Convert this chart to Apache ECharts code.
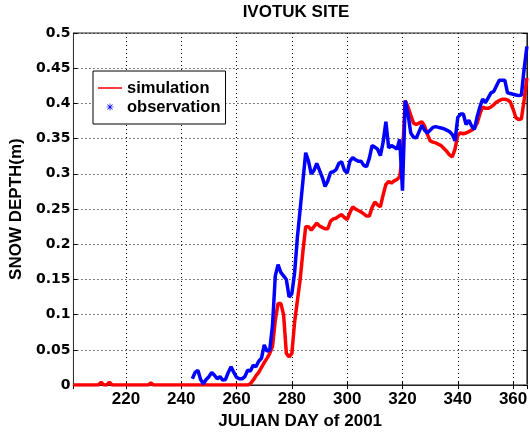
<!DOCTYPE html>
<html>
<head>
<meta charset="utf-8">
<script src="https://cdn.jsdelivr.net/npm/echarts@6/dist/echarts.min.js"></script>
<style>html,body{margin:0;padding:0;background:#fff;}#c{width:530px;height:435px;}</style>
</head>
<body>
<div id="c"></div>
<script>
const titleText = 'IVOTUK SITE';
const xName = 'JULIAN DAY of 2001';
const yName = 'SNOW DEPTH(m)';
const seriesNames = ['simulation', 'observation'];

const simDays = [201,210,211,212,213,214,215,228,229,230,264,
265,266,267,268,269,270,271,272,273,274,
275,276,277,278,279,280,281,282,283,284,
285,286,287,288,289,290,291,292,293,294,
295,296,297,298,299,300,301,302,303,304,
305,306,307,308,309,310,311,312,313,314,
315,316,317,318,319,320,321,322,323,324,
325,326,327,328,329,330,331,332,333,334,
335,336,337,338,339,340,341,342,343,344,
345,346,347,348,349,350,351,352,353,354,
355,356,357,358,359,360,361,362,363,364,
365];
const simDepth = [0,0,0.004,0,0,0.004,0,0,0.003,0,0,
0.002,0.007,0.013,0.018,0.025,0.032,0.038,0.045,0.055,0.092,
0.116,0.116,0.100,0.045,0.040,0.045,0.090,0.120,0.150,0.190,
0.225,0.225,0.220,0.225,0.230,0.226,0.224,0.222,0.222,0.233,
0.236,0.237,0.240,0.242,0.238,0.235,0.245,0.253,0.250,0.248,
0.246,0.243,0.240,0.240,0.252,0.260,0.256,0.253,0.270,0.285,
0.289,0.287,0.290,0.292,0.296,0.326,0.404,0.395,0.383,0.372,
0.370,0.372,0.374,0.368,0.356,0.347,0.345,0.344,0.342,0.340,
0.336,0.332,0.327,0.324,0.335,0.355,0.358,0.357,0.358,0.360,
0.362,0.365,0.372,0.385,0.395,0.393,0.393,0.395,0.398,0.402,
0.404,0.406,0.406,0.405,0.402,0.392,0.380,0.377,0.378,0.405,
0.436];

const obsDays = [244,245,246,247,248,249,250,251,252,253,
254,255,256,257,258,259,260,261,262,263,
264,265,266,267,268,269,270,271,272,273,
274,275,276,277,278,279,280,281,282,283,
284,285,286,287,288,289,290,291,292,293,
294,295,296,297,298,299,300,301,302,303,
304,305,306,307,308,309,310,311,312,313,
314,315,316,317,318,319,320,321,322,323,
324,325,326,327,328,329,330,331,332,333,
334,335,336,337,338,339,340,341,342,343,
344,345,346,347,348,349,350,351,352,353,
354,355,356,357,358,359,360,361,362,363,
364,365];
const obsDepth = [0.009,0.018,0.021,0.008,0.002,0.008,0.012,0.018,0.014,0.009,
0.012,0.007,0.008,0.018,0.026,0.018,0.011,0.009,0.009,0.012,
0.021,0.020,0.028,0.026,0.034,0.038,0.057,0.048,0.050,0.085,
0.155,0.171,0.160,0.155,0.150,0.125,0.130,0.160,0.210,0.250,
0.290,0.330,0.318,0.300,0.305,0.315,0.305,0.295,0.282,0.290,
0.302,0.303,0.306,0.315,0.317,0.305,0.301,0.318,0.323,0.320,
0.318,0.318,0.312,0.310,0.322,0.340,0.338,0.335,0.326,0.345,
0.374,0.337,0.340,0.338,0.335,0.349,0.276,0.404,0.385,0.358,
0.352,0.351,0.360,0.369,0.362,0.358,0.362,0.366,0.367,0.366,
0.365,0.364,0.362,0.360,0.356,0.347,0.380,0.385,0.385,0.370,
0.376,0.368,0.363,0.381,0.395,0.406,0.401,0.408,0.415,0.417,
0.425,0.433,0.433,0.433,0.415,0.414,0.413,0.412,0.411,0.412,
0.449,0.481];

const xMin = 201, xMax = 365;
const yMin = 0, yMax = 0.5, yStep = 0.05;

const simData = simDays.map((d, i) => [d, simDepth[i]]);
const obsData = obsDays.map((d, i) => [d, obsDepth[i]]);

const asterisk = 'path://M9 0H11V20H9Z M0 9H20V11H0Z M2.2 3.6L3.6 2.2L17.8 16.4L16.4 17.8Z M16.4 2.2L17.8 3.6L3.6 17.8L2.2 16.4Z';

const gridLine = {show: true, lineStyle: {color: '#000', width: 1, type: [1, 3]}};
const tickIn = {show: true, inside: true, length: 4, lineStyle: {color: '#000'}};
const FONT = 'Liberation Sans';

const chart = echarts.init(document.getElementById('c'), null, {renderer: 'canvas'});
chart.setOption({
  animation: false,
  backgroundColor: '#fff',
  title: {
    text: titleText, left: 296, top: 4, padding: 0, textAlign: 'center',
    textStyle: {fontFamily: FONT, fontSize: 17, fontWeight: 'bold', color: '#000'}
  },
  grid: {left: 65, right: 1, top: 33, bottom: 37, show: true, borderColor: '#222', borderWidth: 1, backgroundColor: '#fff'},
  legend: {
    left: 93, top: 71, orient: 'vertical',
    padding: [7.5, 5, 7.5, 4],
    itemWidth: 24, itemHeight: 9, itemGap: 0,
    backgroundColor: '#fff', borderColor: '#000', borderWidth: 1, borderRadius: 0,
    textStyle: {fontFamily: FONT, fontSize: 16.5, fontWeight: 'bold', color: '#000', lineHeight: 19},
    data: [
      {name: seriesNames[0], itemStyle: {opacity: 0}, lineStyle: {width: 1.5}},
      {name: seriesNames[1], lineStyle: {opacity: 0}}
    ]
  },
  xAxis: [{
    type: 'value', min: xMin, max: xMax, splitNumber: 8,
    name: xName, nameLocation: 'middle', nameGap: 19,
    nameTextStyle: {fontFamily: FONT, fontSize: 17, fontWeight: 'bold', color: '#000', verticalAlign: 'top'},
    axisLine: {show: true, lineStyle: {color: '#888', width: 2}},
    axisTick: tickIn,
    axisLabel: {show: true, showMinLabel: false, showMaxLabel: false, margin: 6,
      fontFamily: FONT, fontSize: 17, fontWeight: 'bold', color: '#000'},
    splitLine: gridLine
  }, {
    type: 'value', min: xMin, max: xMax, splitNumber: 8, position: 'top',
    axisLine: {show: true, lineStyle: {color: '#222', width: 1}},
    axisTick: tickIn, axisLabel: {show: false}, splitLine: {show: false}
  }],
  yAxis: [{
    type: 'value', min: yMin, max: yMax, interval: yStep,
    name: yName, nameLocation: 'middle', nameGap: 38, nameRotate: 90,
    nameTextStyle: {fontFamily: FONT, fontSize: 17, fontWeight: 'bold', color: '#000'},
    axisLine: {show: true, lineStyle: {color: '#333', width: 1}},
    axisTick: tickIn,
    axisLabel: {margin: 3, fontFamily: 'DejaVu Sans', fontWeight: 'bold', fontSize: 14, color: '#000'},
    splitLine: gridLine
  }, {
    type: 'value', min: yMin, max: yMax, interval: yStep, position: 'right',
    axisLine: {show: true, lineStyle: {color: '#222', width: 1}},
    axisTick: tickIn, axisLabel: {show: false}, splitLine: {show: false}
  }],
  series: [{
    name: seriesNames[0], type: 'line', data: simData,
    xAxisIndex: 0, yAxisIndex: 0,
    symbol: 'none', lineStyle: {color: '#ff0000', width: 3.5}, itemStyle: {color: '#ff0000'}
  }, {
    name: seriesNames[1], type: 'line', data: obsData,
    xAxisIndex: 0, yAxisIndex: 0,
    symbol: asterisk, showSymbol: false,
    lineStyle: {color: '#0000ff', width: 3.5}, itemStyle: {color: '#0000ff'}
  }]
});
</script>
</body>
</html>
